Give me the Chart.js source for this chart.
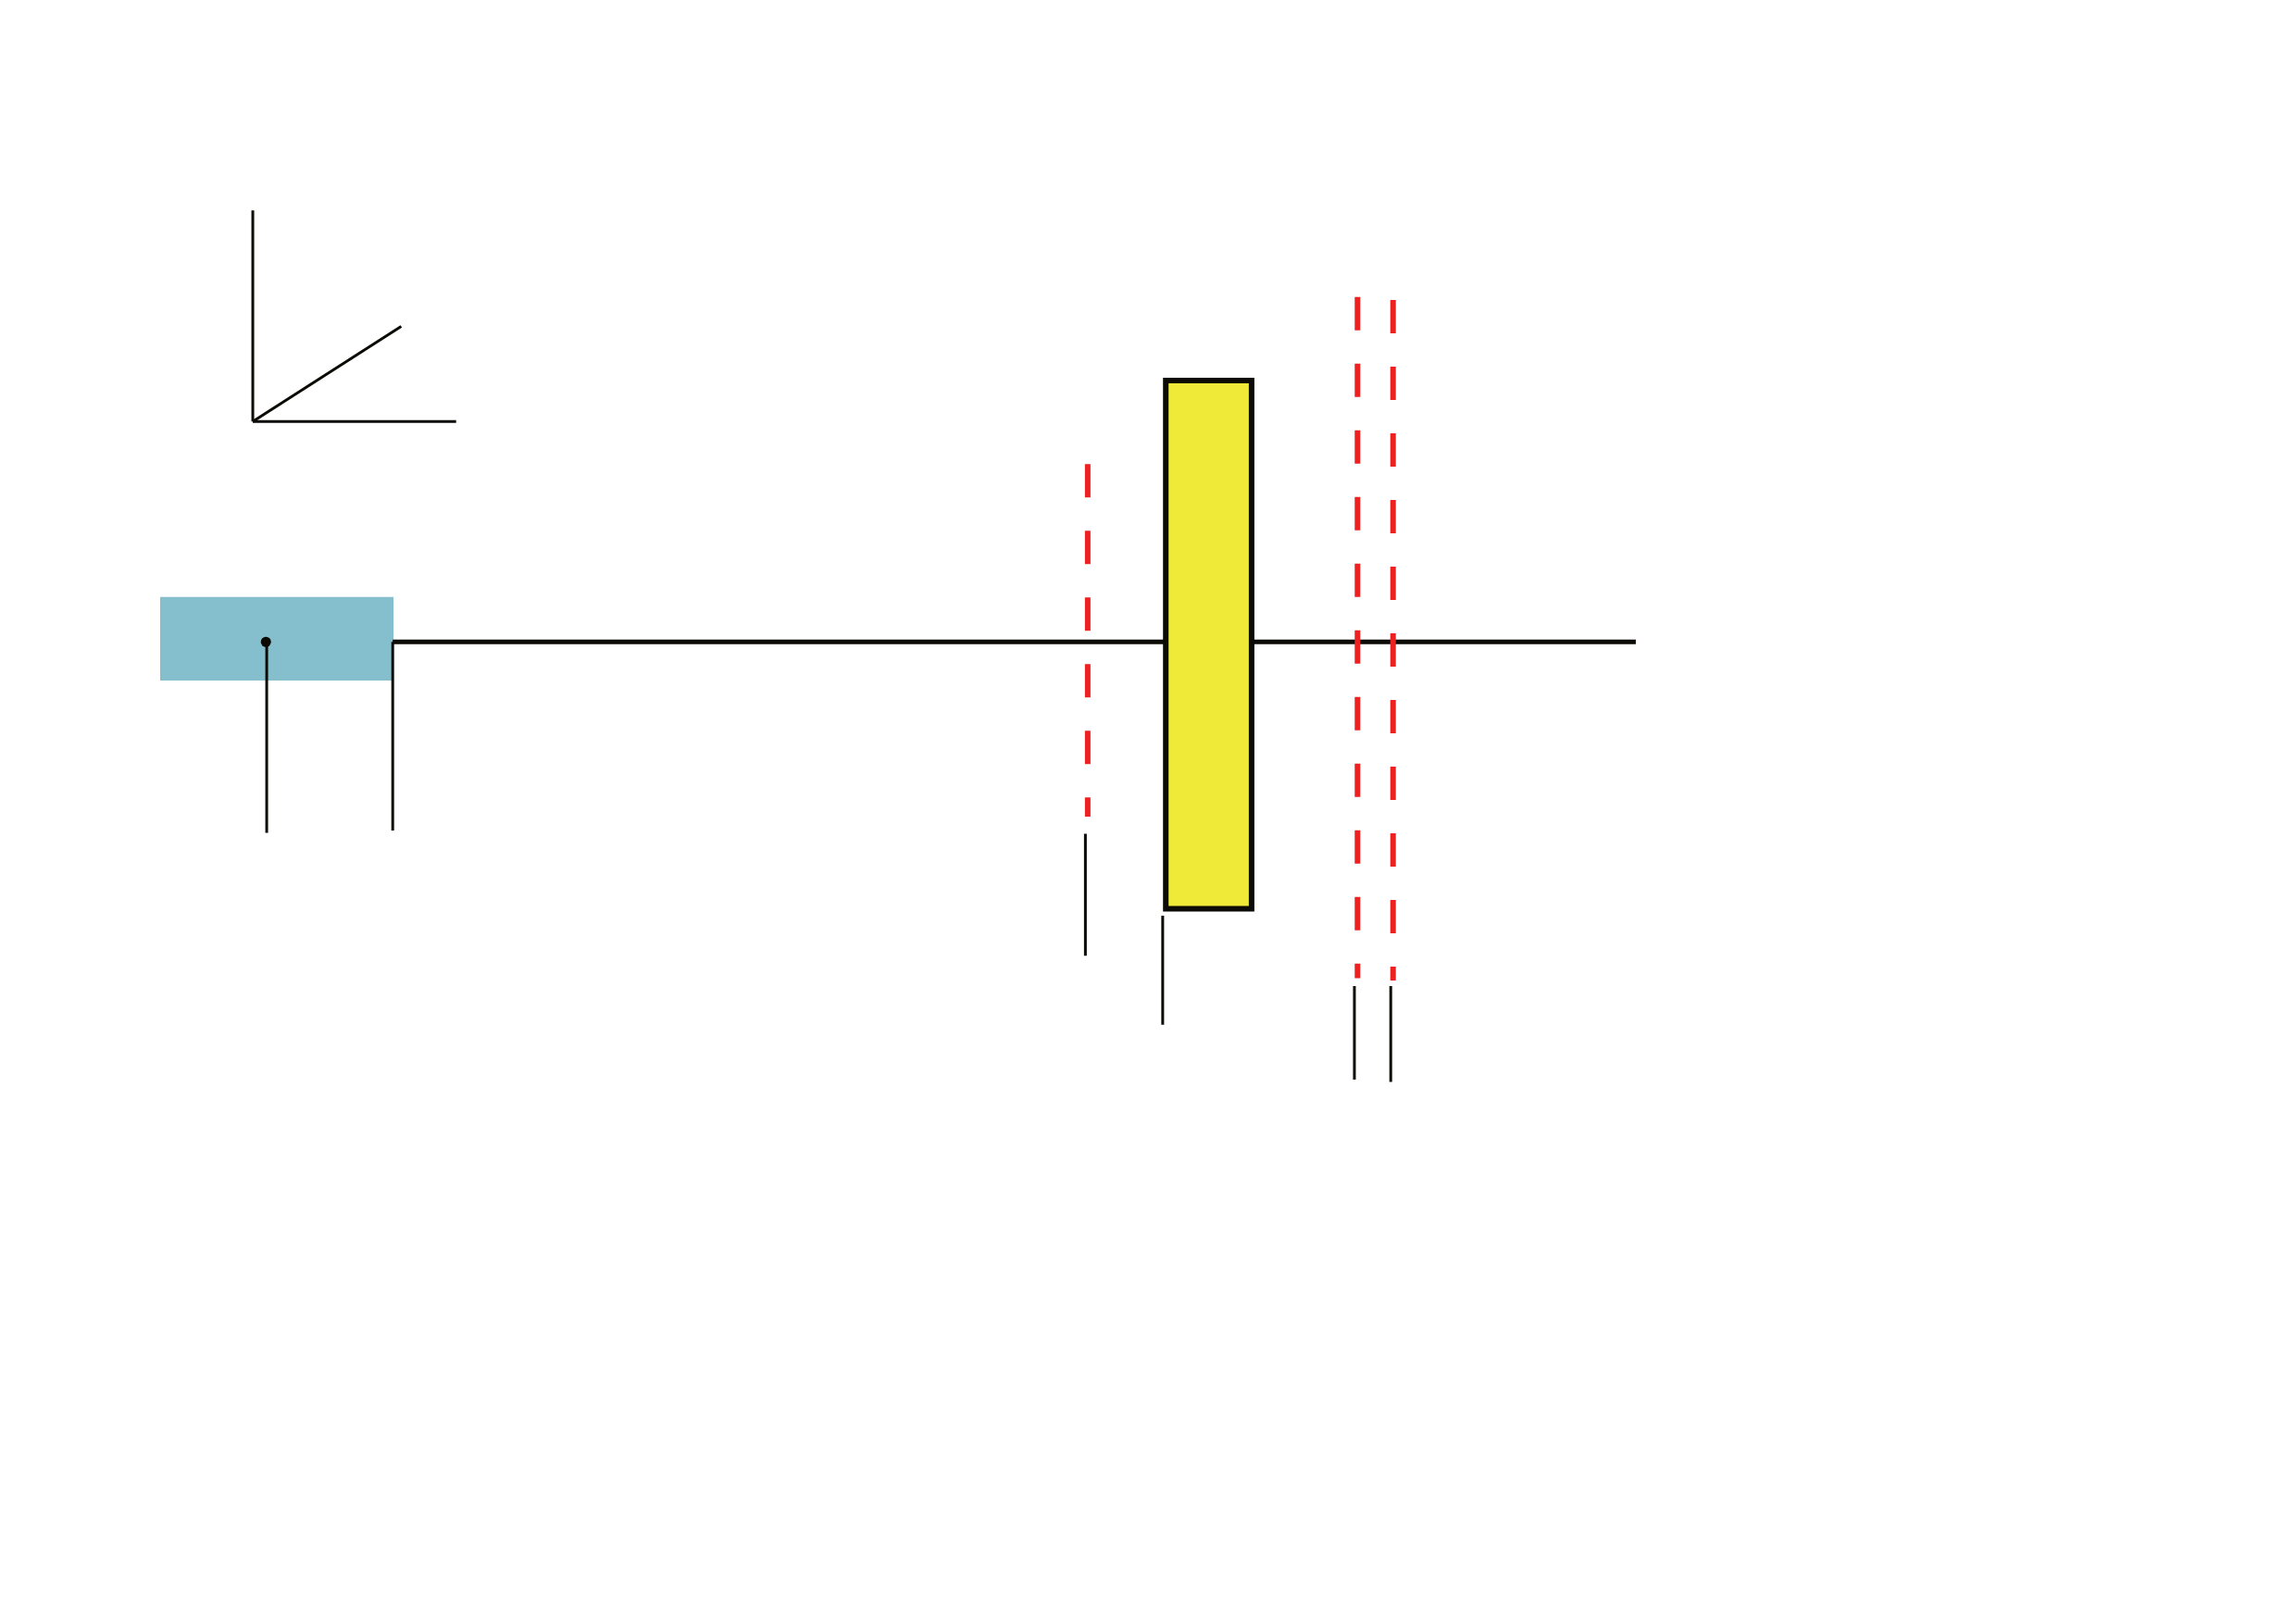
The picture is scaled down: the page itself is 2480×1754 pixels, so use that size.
<!DOCTYPE html>
<html>
<head>
<meta charset="utf-8">
<script src="https://cdn.jsdelivr.net/npm/chart.js@4"></script>
<style>
  html, body { margin: 0; padding: 0; background: #ffffff; }
  #wrap { width: 2480px; height: 1754px; }
</style>
</head>
<body>
<div id="wrap"><canvas id="myChart"></canvas></div>
<script>
// page is an A4 sheet, all positions in mm (x from left, y from top)
let axisY = 83.0;
let axisX = [50.8, 211.6];

let triadOrigin = [32.7, 54.5];
let triadUp = [32.7, 27.2];
let triadRight = [59.0, 54.5];
let triadDiag = [51.9, 42.2];

let sourceX = [20.7, 50.9];
let sourceY = [77.2, 88.0];
let sourceDot = [34.4, 83.0];

let lensX = [150.8, 161.9];
let lensY = [49.2, 117.5];

let planeX = [140.7, 175.6, 180.2];
let planeTop = [60.0, 38.4, 38.8];
let planeBottom = [105.6, 126.5, 126.8];

let leaderX = [34.5, 50.8, 140.4, 150.4, 175.2, 179.9];
let leaderTop = [83.0, 83.0, 107.8, 118.4, 127.5, 127.5];
let leaderBottom = [107.7, 107.4, 123.6, 132.5, 139.6, 139.9];

let black = '#0b0a05';
let red = '#ec2222';

function pt(p) { return { x: p[0], y: p[1] }; }

function seg(points, color, width, order, extra) {
    return Object.assign({
        data: points,
        borderColor: color,
        borderWidth: width,
        pointRadius: 0,
        fill: false,
        tension: 0,
        borderCapStyle: 'butt',
        order: order
    }, extra || {});
}

let datasets = [];

// lens outline
datasets.push(seg([
    { x: lensX[0], y: lensY[0] }, { x: lensX[1], y: lensY[0] },
    { x: lensX[1], y: lensY[1] }, { x: lensX[0], y: lensY[1] },
    { x: lensX[0], y: lensY[0] }
], black, 6, 0, { borderJoinStyle: 'miter', borderCapStyle: 'square' }));

// lens fill (top edge filled to bottom edge)
datasets.push(seg([{ x: lensX[0], y: lensY[0] }, { x: lensX[1], y: lensY[0] }],
    'rgba(0,0,0,0)', 0, 1, { fill: '+1', backgroundColor: '#eeea37' }));
datasets.push(seg([{ x: lensX[0], y: lensY[1] }, { x: lensX[1], y: lensY[1] }],
    'rgba(0,0,0,0)', 0, 1));

// dashed planes
planeX.forEach(function (x, i) {
    datasets.push(seg([{ x: x, y: planeTop[i] }, { x: x, y: planeBottom[i] }],
        red, 6, 2, { borderDash: [36, 36] }));
});

// optical axis
datasets.push(seg([{ x: axisX[0], y: axisY }, { x: axisX[1], y: axisY }], black, 5, 3));

// leader lines
leaderX.forEach(function (x, i) {
    datasets.push(seg([{ x: x, y: leaderTop[i] }, { x: x, y: leaderBottom[i] }], black, 3, 3));
});

// coordinate triad
datasets.push(seg([pt(triadUp), pt(triadOrigin)], black, 3, 3));
datasets.push(seg([pt(triadOrigin), pt(triadRight)], black, 3, 3));
datasets.push(seg([pt(triadOrigin), pt(triadDiag)], black, 3, 3));

// source dot
datasets.push(seg([pt(sourceDot)], black, 0, 3, {
    showLine: false, pointRadius: 5.5, pointBackgroundColor: black, pointBorderWidth: 0
}));

// source block
datasets.push(seg([{ x: sourceX[0], y: sourceY[0] }, { x: sourceX[1], y: sourceY[0] }],
    'rgba(0,0,0,0)', 0, 5, { fill: '+1', backgroundColor: '#85bfce' }));
datasets.push(seg([{ x: sourceX[0], y: sourceY[1] }, { x: sourceX[1], y: sourceY[1] }],
    'rgba(0,0,0,0)', 0, 5));

let ctx = document.getElementById('myChart').getContext('2d');

let chart = new Chart(ctx, {
    type: 'line',
    data: { datasets: datasets },
    options: {
        responsive: true,
        maintainAspectRatio: false,
        devicePixelRatio: 1,
        animation: false,
        events: [],
        layout: { padding: 0, autoPadding: false },
        plugins: {
            legend: { display: false },
            tooltip: { enabled: false },
            filler: { propagate: false }
        },
        scales: {
            x: { type: 'linear', min: 0, max: 297, display: false },
            y: { type: 'linear', min: 0, max: 210, reverse: true, display: false }
        }
    }
});
</script>
</body>
</html>
